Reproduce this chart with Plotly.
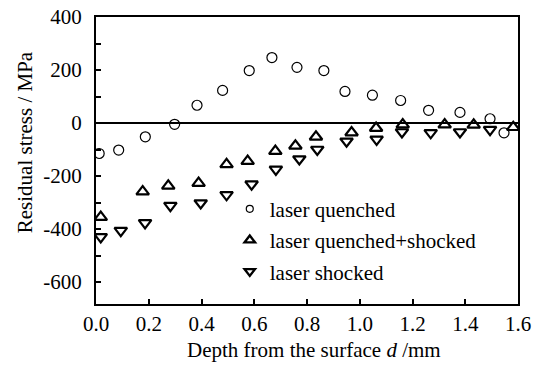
import plotly.graph_objects as go

# laser quenched
lq_x = [0.012, 0.086, 0.187, 0.298, 0.383, 0.480, 0.581, 0.667, 0.762, 0.864, 0.944, 1.048, 1.155, 1.261, 1.380, 1.494, 1.547]
lq_y = [-115, -102, -52, -5, 67, 123, 198, 247, 210, 198, 119, 105, 85, 48, 40, 16, -37]

# laser quenched + shocked
lqs_x = [0.018, 0.177, 0.274, 0.389, 0.495, 0.575, 0.680, 0.756, 0.834, 0.969, 1.062, 1.163, 1.322, 1.432, 1.582]
lqs_y = [-355, -259, -237, -227, -156, -144, -106, -86, -52, -36, -19, -6, -6, -7, -16]

# laser shocked
ls_x = [0.018, 0.094, 0.186, 0.282, 0.397, 0.495, 0.590, 0.682, 0.771, 0.839, 0.950, 1.064, 1.160, 1.269, 1.380, 1.494]
ls_y = [-430, -406, -377, -312, -302, -271, -231, -175, -136, -100, -69, -62, -34, -37, -34, -25]

series_names = ["laser quenched", "laser quenched+shocked", "laser shocked"]

y_ticks = [400, 200, 0, -200, -400, -600]
y_ticktext = ["400", "200", "0", "-200", "-400", "-600"]
y_minor = [300, 100, -100, -300, -500]
x_ticks = [0.0, 0.2, 0.4, 0.6, 0.8, 1.0, 1.2, 1.4, 1.6]

x_title = "Depth from the surface <i>d</i> /mm"
y_title = "Residual stress / MPa"

FONT = "Liberation Serif"
FS = 21

symbols = ["circle-open", "triangle-up-open", "triangle-down-open"]
sizes = [10, 11, 11]
widths = [1.2, 2.2, 2.2]
leg_sizes = [7, 9, 9]
leg_widths = [1.2, 2.4, 2.4]

fig = go.Figure()
for i, (xs, ys) in enumerate([(lq_x, lq_y), (lqs_x, lqs_y), (ls_x, ls_y)]):
    fig.add_trace(go.Scatter(x=xs, y=ys, mode="markers", name=series_names[i], showlegend=False,
                             marker=dict(symbol=symbols[i], size=sizes[i], color="black",
                                         line=dict(width=widths[i], color="black"))))
for i in range(3):
    fig.add_trace(go.Scatter(x=[None], y=[None], mode="markers", name=series_names[i],
                             legendgroup=str(i), showlegend=True,
                             marker=dict(symbol=symbols[i], size=leg_sizes[i], color="black",
                                         line=dict(width=leg_widths[i], color="black"))))

# the page body adds an 8px offset, margins compensate
fig.update_layout(
    width=541, height=365,
    margin=dict(l=88, r=31, t=9, b=69, autoexpand=False),
    paper_bgcolor="white", plot_bgcolor="white",
    font=dict(family=FONT, size=FS, color="black"),
    showlegend=True,
    legend=dict(x=0.317, y=0.402, xanchor="left", yanchor="top", bgcolor="rgba(0,0,0,0)",
                font=dict(family=FONT, size=FS), tracegroupgap=1),
    xaxis=dict(range=[0, 1.6], tickvals=x_ticks, tickformat=".1f", ticks="inside", ticklen=5,
               tickwidth=1.5, tickcolor="black", showline=True, linecolor="black", linewidth=2,
               mirror=True, showgrid=False, zeroline=False, ticklabelstandoff=0,
               ticklabeloverflow="allow", automargin=False),
    yaxis=dict(range=[-683, 400], tickvals=y_ticks, ticktext=y_ticktext, ticks="inside", ticklen=5,
               tickwidth=1.5, tickcolor="black", showline=True, linecolor="black", linewidth=2,
               mirror=True, showgrid=False, zeroline=True, zerolinecolor="black", zerolinewidth=2,
               ticklabelstandoff=8, ticklabeloverflow="allow", automargin=False,
               minor=dict(tickvals=y_minor, ticks="inside", ticklen=5, tickwidth=1.5, tickcolor="black")),
    annotations=[
        dict(text=x_title, xref="paper", yref="paper", x=0.517, y=-0.16, xanchor="center",
             yanchor="middle", showarrow=False, font=dict(family=FONT, size=FS)),
        dict(text=y_title, xref="paper", yref="paper", x=-0.168, y=0.564, xanchor="center",
             yanchor="middle", textangle=-90, showarrow=False, font=dict(family=FONT, size=FS)),
    ],
)

fig.write_html("out.html")
